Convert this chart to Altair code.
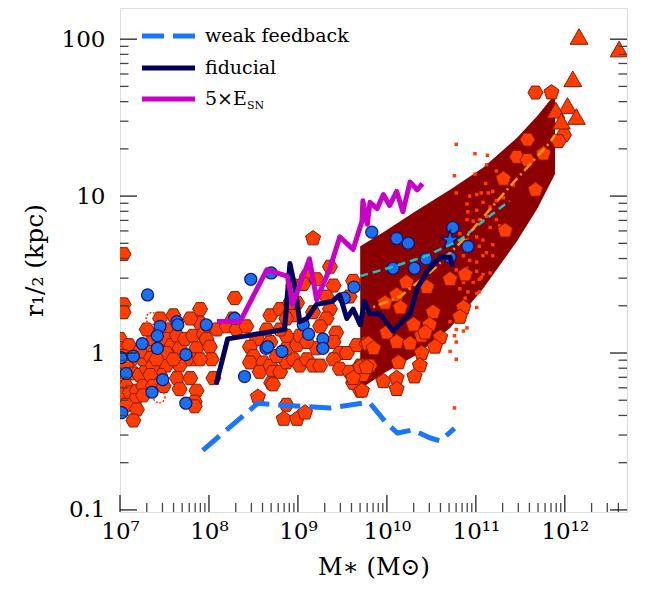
import altair as alt
import pandas as pd

# ---------------- data (log10 M*, log10 r_1/2) ----------------
hex_pts = [
    (7.04, 0.63), (7.04, 0.31), (7.04, 0.26), (7.00, 0.09), (7.02, 0.03), (7.10, 0.05), (7.04, -0.02),
    (7.13, -0.04), (7.07, -0.08), (7.00, -0.14), (7.15, -0.13), (7.22, -0.14), (7.07, -0.21), (7.00, -0.26),
    (7.11, -0.25), (7.19, -0.24), (7.17, -0.30), (7.07, -0.33), (7.19, -0.36), (7.15, -0.43), (7.26, -0.21),
    (7.30, -0.10), (7.26, -0.04), (7.34, -0.02), (7.32, 0.05), (7.37, 0.09), (7.30, 0.15), (7.52, 0.15),
    (7.52, 0.09), (7.58, 0.05), (7.64, 0.11), (7.67, 0.03), (7.73, 0.09), (7.82, 0.11), (7.90, 0.28),
    (7.90, 0.19), (7.86, 0.03), (7.82, -0.04), (7.75, -0.04), (7.67, -0.08), (7.52, -0.08), (7.45, -0.14),
    (7.37, -0.08), (7.34, -0.14), (7.26, -0.27), (7.37, -0.21), (7.49, -0.21), (7.64, -0.16), (7.79, -0.16),
    (7.67, -0.23), (7.86, -0.24), (7.84, -0.31), (7.52, 0.00), (7.60, -0.04), (7.41, -0.04), (7.22, 0.01),
    (7.45, 0.22), (7.60, 0.24), (7.79, 0.22), (7.94, 0.12), (7.97, 0.09), (8.01, 0.04), (8.03, -0.04),
    (8.05, -0.16), (7.90, -0.04), (8.09, 0.15), (7.84, -0.34),
    (8.29, 0.35), (8.27, 0.22), (8.20, 0.17), (8.31, 0.15), (8.42, 0.17), (8.54, 0.09), (8.46, 0.04),
    (8.50, -0.02), (8.46, -0.06), (8.61, -0.06), (8.57, -0.12), (8.69, -0.08), (8.72, -0.12), (8.70, -0.19),
    (8.80, -0.12), (8.87, -0.06), (8.95, -0.04), (9.02, -0.08), (9.10, -0.04), (9.17, -0.08), (8.87, 0.03),
    (8.99, 0.05), (9.02, 0.11), (8.87, 0.11), (8.80, 0.15), (8.69, 0.24), (8.80, 0.28), (8.95, 0.24),
    (8.99, 0.32), (9.10, 0.49), (9.36, 0.55), (9.40, 0.43), (9.32, 0.36), (9.36, 0.28), (9.32, 0.22),
    (9.43, 0.13), (9.40, 0.07), (9.47, 0.00), (9.55, 0.00), (9.40, -0.04), (9.47, -0.10), (9.58, -0.12),
    (9.70, -0.08), (9.73, -0.14), (9.70, -0.24), (9.81, -0.08), (9.66, 0.05), (9.77, 0.06), (9.25, -0.08),
    (9.21, 0.03), (9.10, 0.07), (9.25, 0.17), (9.17, 0.26), (8.95, 0.43), (9.06, 0.44), (9.21, 0.47),
    (9.62, 0.46), (8.87, 0.22), (8.91, 0.32), (8.69, 0.07), (8.65, 0.15), (8.76, -0.02), (8.87, -0.33),
    (9.58, 0.36), (8.72, -0.20), (9.62, -0.19),
    (11.99, 1.39), (11.93, 1.35), (11.58, 1.36), (11.46, 1.25), (11.58, 1.23), (11.67, 1.66),
]
hex_logM = [p[0] for p in hex_pts]
hex_logR = [p[1] for p in hex_pts]

pent_pts = [
    (9.17, 0.73), (8.55, -0.28), (8.84, -0.42), (8.99, -0.42), (9.08, -0.38),
    (11.76, 1.27), (11.31, 1.11), (11.67, 1.04), (11.33, 0.78), (10.88, 0.50), (10.71, 0.47),
    (10.22, 0.45), (10.11, 0.37), (10.45, 0.42), (9.98, 0.32), (10.15, 0.29), (10.86, 0.29), (10.52, 0.26),
    (10.30, 0.18), (10.48, 0.18), (10.82, 0.23), (10.00, 0.13), (10.11, 0.07), (10.26, 0.06), (10.39, 0.11),
    (10.43, 0.13), (10.60, 0.10), (9.79, 0.06), (9.85, 0.03), (10.39, 0.00), (10.54, 0.04), (9.70, -0.09),
    (9.77, -0.09), (10.13, -0.06), (10.37, -0.08), (9.62, -0.16), (9.96, -0.18), (10.11, -0.16),
    (10.31, -0.15), (9.72, -0.24), (10.11, -0.23), (11.85, 1.66),
]
pent_logM = [p[0] for p in pent_pts]
pent_logR = [p[1] for p in pent_pts]

tri_logM = [12.16, 12.61, 12.09, 12.03, 12.13, 11.90, 11.96]
tri_logR = [2.01, 1.93, 1.74, 1.57, 1.50, 1.54, 1.47]

sq_pts = [
    (10.78, 1.33), (10.99, 1.27), (11.13, 1.26), (11.12, 1.20), (10.76, 1.13), (10.99, 1.14), (11.11, 1.08),
    (11.23, 1.16), (11.34, 1.12), (11.42, 1.07), (10.78, 1.02), (10.90, 0.95), (10.93, 1.00), (11.01, 1.01),
    (11.06, 1.02), (11.14, 1.02), (11.19, 1.03), (11.08, 0.96), (11.16, 0.93), (11.23, 0.97), (11.31, 0.99),
    (10.91, 0.90), (11.01, 0.91), (10.90, 0.85), (10.97, 0.84), (11.04, 0.85), (11.12, 0.87), (11.23, 0.85),
    (11.16, 0.80), (11.27, 0.81), (11.34, 0.76), (10.82, 0.76), (10.90, 0.72), (11.01, 0.74), (11.08, 0.72),
    (11.19, 0.69), (10.93, 0.66), (11.04, 0.68), (11.12, 0.64), (10.86, 0.62), (10.93, 0.59), (11.01, 0.58),
    (11.08, 0.62), (11.19, 0.62), (10.78, 0.53), (10.90, 0.54), (11.01, 0.52), (11.08, 0.50), (11.16, 0.51),
    (10.75, 0.49), (10.86, 0.45), (10.97, 0.45), (11.04, 0.47), (10.82, 0.41), (10.91, 0.39), (11.01, 0.38),
    (10.88, 0.35), (11.04, 0.39), (11.01, 0.29), (10.71, 0.20), (10.78, 0.15), (10.90, 0.16), (10.86, 0.14),
    (10.76, 0.11), (10.78, 0.07), (10.71, 0.01), (10.78, -0.04), (11.06, 0.48), (10.93, 0.51), (10.76, -0.35),
]
sq_logM = [p[0] for p in sq_pts]
sq_logR = [p[1] for p in sq_pts]

blue_pts = [
    (7.31, 0.37), (7.45, 0.17), (7.64, 0.20), (7.65, 0.18), (7.42, 0.11), (7.25, 0.06), (7.42, 0.03),
    (7.74, -0.01), (7.01, -0.03), (7.15, -0.02), (7.07, -0.13), (7.48, -0.17), (7.36, -0.25), (7.74, -0.32),
    (7.02, -0.38), (7.97, 0.18), (8.29, 0.22), (8.47, 0.47), (8.70, 0.51), (8.40, -0.15), (8.64, 0.03),
    (8.66, 0.04), (8.82, 0.01), (9.06, 0.18), (9.12, 0.12), (9.28, 0.09), (9.28, 0.03), (9.52, 0.35),
    (9.63, 0.42), (9.83, 0.77), (10.11, 0.73), (10.24, 0.70), (10.07, 0.54), (10.31, 0.54), (10.44, 0.60),
    (10.74, 0.80), (10.91, 0.68), (10.71, 0.61),
]
blue_logM = [p[0] for p in blue_pts]
blue_logR = [p[1] for p in blue_pts]

ring_logM = [7.36, 7.44, 7.02]
ring_logR = [0.22, -0.28, -0.38]

star_logM = [10.71]
star_logR = [0.72]

band_logM = [9.70, 9.96, 10.34, 10.71, 11.08, 11.46, 11.69, 11.89]
band_lo = [-0.23, -0.13, -0.01, 0.16, 0.41, 0.71, 0.92, 1.14]
band_hi = [0.68, 0.77, 0.91, 1.04, 1.18, 1.37, 1.51, 1.65]

weak_logM = [7.93, 8.55, 8.76, 9.36, 9.72, 9.81, 10.00, 10.12, 10.29, 10.48, 10.60, 10.76]
weak_logR = [-0.62, -0.32, -0.33, -0.35, -0.32, -0.32, -0.45, -0.51, -0.49, -0.54, -0.56, -0.48]

fid_logM = [8.08, 8.21, 8.85, 8.91, 8.97, 9.02, 9.10, 9.21, 9.39, 9.47, 9.55, 9.62, 9.70, 9.75, 9.81,
            9.92, 10.07, 10.26, 10.34, 10.45, 10.60, 10.71, 10.74]
fid_logR = [-0.20, 0.09, 0.15, 0.57, 0.41, 0.20, 0.22, 0.31, 0.33, 0.37, 0.22, 0.28, 0.18, 0.33, 0.25,
            0.25, 0.14, 0.25, 0.41, 0.52, 0.61, 0.61, 0.55]

esn_logM = [8.09, 8.35, 8.65, 8.88, 8.94, 9.13, 9.21, 9.36, 9.47, 9.62, 9.72, 9.73, 9.78, 9.81, 9.89,
            9.96, 10.03, 10.11, 10.18, 10.26, 10.34, 10.40]
esn_logR = [0.20, 0.20, 0.53, 0.49, 0.31, 0.60, 0.34, 0.54, 0.74, 0.66, 0.84, 0.97, 0.82, 0.96, 0.92,
            1.01, 0.94, 1.03, 0.90, 1.09, 1.04, 1.08]

cyan_logM = [9.70, 10.07, 10.45, 10.82, 11.08, 11.38]
cyan_logR = [0.49, 0.55, 0.62, 0.72, 0.84, 0.97]

orange_logM = [9.70, 10.15, 10.52, 10.89, 11.38, 11.83, 11.89]
orange_logR = [0.26, 0.36, 0.53, 0.74, 1.06, 1.34, 1.39]

x_tick_vals = [1e7, 1e8, 1e9, 1e10, 1e11, 1e12]
x_tick_text = ["10⁷", "10⁸", "10⁹", "10¹⁰", "10¹¹", "10¹²"]
y_tick_vals = [0.1, 1, 10, 100]
y_tick_text = ["0.1", "1", "10", "100"]

# ---------------- helpers ----------------
def frame(xs, ys, extra=None):
    d = {"M": [10 ** v for v in xs], "R": [10 ** v for v in ys], "i": list(range(len(xs)))}
    if extra is not None:
        d.update(extra)
    return pd.DataFrame(d)

W, H = 507, 504
FONT = "DejaVu Serif"
RED, REDEDGE = "#ff3d00", "#8a1800"
xscale = alt.Scale(type="log", domain=[1e7, 5e12], nice=False)
yscale = alt.Scale(type="log", domain=[0.097, 158], nice=False)

def lab_expr(vals, texts):
    e = "''"
    for v, t in zip(vals, texts):
        e = f"abs(datum.value - {v}) < {v * 1e-6} ? '{t}' : ({e})"
    return e

X = alt.X("M:Q", scale=xscale, axis=alt.Axis(
    values=x_tick_vals, labelExpr=lab_expr(x_tick_vals, x_tick_text), ticks=False, domain=False,
    grid=False, labelFont=FONT, labelFontSize=23, labelColor="black", labelPadding=8,
    title="M∗ (M⊙)", titleFont=FONT, titleFontSize=24, titleFontWeight="normal",
    titleColor="black", titlePadding=12, labelFlush=False, labelOverlap=False))
Y = alt.Y("R:Q", scale=yscale, axis=alt.Axis(
    values=y_tick_vals, labelExpr=lab_expr(y_tick_vals, y_tick_text), ticks=False, domain=False,
    grid=False, labelFont=FONT, labelFontSize=23, labelColor="black", labelPadding=15,
    title="r₁/₂ (kpc)", titleFont=FONT, titleFontSize=25, titleFontWeight="normal",
    titleColor="black", titlePadding=14, labelFlush=False, labelOverlap=False))

HEX = "M-1,0L-0.5,-0.866L0.5,-0.866L1,0L0.5,0.866L-0.5,0.866Z"
PENT = "M0,-1L0.951,-0.309L0.588,0.809L-0.588,0.809L-0.951,-0.309Z"
TRI = "M0,-1L1,0.75L-1,0.75Z"
STAR = ("M0,-1L0.235,-0.324L0.951,-0.309L0.380,0.124L0.588,0.809L0,0.4L-0.588,0.809"
        "L-0.380,0.124L-0.951,-0.309L-0.235,-0.324Z")

layers = []

# shaded band
band = alt.Chart(pd.DataFrame({"M": [10 ** v for v in band_logM],
                               "R": [10 ** v for v in band_lo],
                               "R2": [10 ** v for v in band_hi]})).mark_area(
    color="#8b0000", opacity=1, clip=True).encode(x=X, y=Y, y2="R2:Q")
layers.append(band)

layers.append(alt.Chart(frame(sq_logM, sq_logR)).mark_square(
    size=12, color="#ff3d00", opacity=1, clip=True).encode(x=X, y=Y))

for xs_, ys_, path, sz in [(hex_logM, hex_logR, HEX, 225), (pent_logM, pent_logR, PENT, 250),
                           (tri_logM, tri_logR, TRI, 320)]:
    layers.append(alt.Chart(frame(xs_, ys_)).mark_point(
        shape=path, size=sz, filled=True, fill=RED, stroke=REDEDGE, strokeWidth=1,
        opacity=1, clip=True).encode(x=X, y=Y))

layers.append(alt.Chart(frame(ring_logM, ring_logR)).mark_point(
    shape="circle", size=140, filled=False, stroke=RED, strokeWidth=1.5, strokeDash=[2, 1.5],
    opacity=1, clip=True).encode(x=X, y=Y))

layers.append(alt.Chart(frame(blue_logM, blue_logR)).mark_point(
    shape="circle", size=145, filled=True, fill="#1a6ff0", stroke="#0b1670", strokeWidth=1.2,
    opacity=1, clip=True).encode(x=X, y=Y))

layers.append(alt.Chart(frame(star_logM, star_logR)).mark_point(
    shape=STAR, size=360, filled=True, fill="#1a6ff0", stroke="#0b1670", strokeWidth=1.5,
    opacity=1, clip=True).encode(x=X, y=Y))

def line(xs_, ys_, color, width, dash=None):
    kw = dict(color=color, strokeWidth=width, clip=True, strokeJoin="round")
    if dash:
        kw["strokeDash"] = dash
    return alt.Chart(frame(xs_, ys_)).mark_line(**kw).encode(x=X, y=Y, order="i:Q")

layers.append(line(cyan_logM, cyan_logR, "#12c6cc", 2.5, [8, 5]))
layers.append(line(orange_logM, orange_logR, "#ff9a00", 2.5, [10, 4, 2, 4]))
layers.append(line(weak_logM, weak_logR, "#1a75ff", 5, [22, 9]))
layers.append(line(fid_logM, fid_logR, "#00005e", 5))
layers.append(line(esn_logM, esn_logR, "#c800c8", 5))

# inward tick marks on bottom, left and right
x_major = x_tick_vals
x_minor = [k * 10 ** n for n in range(7, 12) for k in range(2, 10)] + [2e12, 3e12, 4e12]
y_major = y_tick_vals
y_minor = [k * 10 ** n for n in (-1, 0, 1) for k in range(2, 10)]

def xticks(vals, length, color):
    return alt.Chart(pd.DataFrame({"M": vals})).mark_rule(color=color, strokeWidth=1.3).encode(
        x=X, y=alt.value(H), y2=alt.value(H - length))

def yticks(vals, x0, x1, color):
    return alt.Chart(pd.DataFrame({"R": vals})).mark_rule(color=color, strokeWidth=1.3).encode(
        y=Y, x=alt.value(x0), x2=alt.value(x1))

layers += [xticks(x_major, 17, "#222"), xticks(x_minor, 9, "#444"),
           yticks(y_major, 0, 17, "#222"), yticks(y_minor, 0, 8.5, "#444"),
           yticks(y_major, W, W - 17, "#222"), yticks(y_minor, W, W - 8.5, "#444")]

# legend
one = pd.DataFrame({"a": [0]})
leg = [("weak feedback", "#1a75ff", [22, 9], 28), ("fiducial", "#00005e", None, 60),
       ("5×E", "#c800c8", None, 91)]
for txt, col, dash, yy in leg:
    kw = dict(color=col, strokeWidth=5)
    if dash:
        kw["strokeDash"] = dash
    layers.append(alt.Chart(one).mark_rule(**kw).encode(
        x=alt.value(22), x2=alt.value(75), y=alt.value(yy)))
    layers.append(alt.Chart(one).mark_text(
        align="left", baseline="middle", font=FONT, fontSize=19, color="black").encode(
        x=alt.value(85), y=alt.value(yy), text=alt.value(txt)))
layers.append(alt.Chart(one).mark_text(
    align="left", baseline="middle", font=FONT, fontSize=11, color="black").encode(
    x=alt.value(127), y=alt.value(98), text=alt.value("SN")))

chart = alt.layer(*layers).properties(
    width=W, height=H,
    padding={"left": 112, "top": 0, "right": 12, "bottom": 80},
    autosize=alt.AutoSizeParams(type="none"),
).configure_view(stroke="black", strokeWidth=2).configure(background="white")

chart.save("out.html", embed_options={"renderer": "svg", "actions": False})
